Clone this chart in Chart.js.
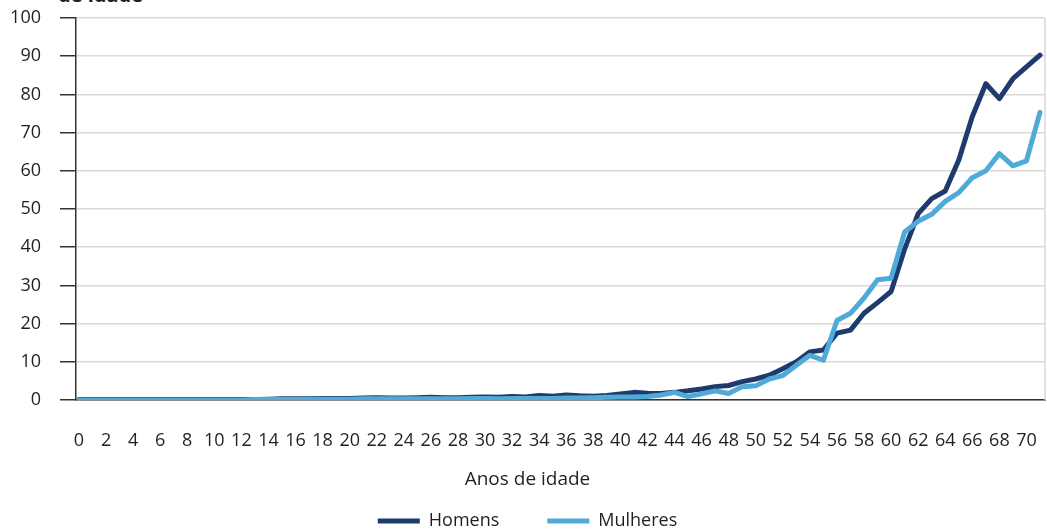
<!DOCTYPE html>
<html lang="pt">
<head>
<meta charset="utf-8">
<title>Homens e Mulheres por anos de idade</title>
<script src="https://cdn.jsdelivr.net/npm/chart.js@4.4.1/dist/chart.umd.min.js"></script>
<style>
  html, body { margin: 0; padding: 0; background: #fff; }
  #wrap { position: relative; width: 1047px; height: 532px; overflow: hidden; }
  #topTitle {
    position: absolute; left: 58px; top: -15px;
    font: bold 20px "Open Sans", sans-serif; line-height: 20px; color: #231f20;
  }
  #chart { position: absolute; left: 0; top: 0; }
</style>
</head>
<body>
<div id="wrap">
  <div id="topTitle">de idade</div>
  <canvas id="chart" width="1047" height="540"></canvas>
</div>
<script>
// anos de idade (categorias)
const ages = [0, 1, 2, 3, 4, 5, 6, 7, 8, 9, 10, 11, 12, 13, 14, 15, 16, 17, 18, 19,
  20, 21, 22, 23, 24, 25, 26, 27, 28, 29, 30, 31, 32, 33, 34, 35, 36, 37, 38, 39,
  40, 41, 42, 43, 44, 45, 46, 47, 48, 49, 50, 51, 52, 53, 54, 55, 56, 57, 58, 59,
  60, 61, 62, 63, 64, 65, 66, 67, 68, 69, 70, 71];

const homens = [0.1, 0.1, 0.1, 0.1, 0.1, 0.1, 0.1, 0.1, 0.1, 0.1,
  0.1, 0.1, 0.1, 0.1, 0.2, 0.3, 0.3, 0.3, 0.4, 0.4,
  0.4, 0.5, 0.6, 0.5, 0.5, 0.6, 0.7, 0.6, 0.6, 0.7,
  0.8, 0.7, 0.9, 0.8, 1.2, 1.0, 1.3, 1.1, 1.0, 1.2,
  1.6, 2.0, 1.8, 1.7, 2.0, 2.4, 2.9, 3.5, 3.8, 4.8,
  5.5, 6.5, 8.2, 10.0, 12.6, 13.1, 17.5, 18.3, 22.7, 25.5,
  28.4, 39.5, 48.8, 52.7, 54.7, 62.8, 74.2, 82.8, 78.9, 84.1, 87.2, 90.3];

const mulheres = [0.0, 0.0, 0.0, 0.0, 0.0, 0.0, 0.0, 0.0, 0.0, 0.0,
  0.0, 0.0, 0.0, 0.1, 0.1, 0.1, 0.1, 0.1, 0.2, 0.2,
  0.2, 0.3, 0.3, 0.3, 0.3, 0.3, 0.3, 0.3, 0.3, 0.4,
  0.4, 0.3, 0.4, 0.4, 0.4, 0.4, 0.5, 0.5, 0.6, 0.7,
  0.8, 0.8, 0.9, 1.3, 2.0, 0.9, 1.6, 2.4, 1.7, 3.5,
  3.7, 5.5, 6.4, 9.1, 11.7, 10.4, 20.8, 22.7, 26.7, 31.5,
  31.9, 44.0, 46.8, 48.6, 52.0, 54.3, 58.2, 60.0, 64.5, 61.3, 62.6, 75.3];

const xTicks = [0, 2, 4, 6, 8, 10, 12, 14, 16, 18, 20, 22, 24, 26, 28, 30, 32, 34,
  36, 38, 40, 42, 44, 46, 48, 50, 52, 54, 56, 58, 60, 62, 64, 66, 68, 70];
const yTicks = [0, 10, 20, 30, 40, 50, 60, 70, 80, 90, 100];

const textColor = '#231f20';
const axisColor = '#333333';
const gridColor = '#d9d9d9';
const family = '"Open Sans", sans-serif';
const tickFont = { family, size: 18 };

// linha cinza do lado direito da área do gráfico
const rightFrame = {
  id: 'rightFrame',
  beforeDatasetsDraw(chart) {
    const { ctx, chartArea } = chart;
    ctx.save();
    ctx.strokeStyle = gridColor;
    ctx.lineWidth = 1.5;
    ctx.beginPath();
    ctx.moveTo(chartArea.right, chartArea.top);
    ctx.lineTo(chartArea.right, chartArea.bottom);
    ctx.stroke();
    ctx.restore();
  }
};

const toPoints = vals => ages.map((a, i) => ({ x: a, y: vals[i] }));

new Chart(document.getElementById('chart'), {
  type: 'line',
  data: {
    datasets: [{
      label: 'Homens',
      data: toPoints(homens),
      borderColor: '#1f3a6c',
      backgroundColor: '#1f3a6c',
      borderWidth: 5,
      borderCapStyle: 'round',
      borderJoinStyle: 'round',
      pointRadius: 0,
      tension: 0,
      order: 1
    }, {
      label: 'Mulheres',
      data: toPoints(mulheres),
      borderColor: '#50aad7',
      backgroundColor: '#50aad7',
      borderWidth: 5,
      borderCapStyle: 'round',
      borderJoinStyle: 'round',
      pointRadius: 0,
      tension: 0,
      order: 0
    }]
  },
  options: {
    responsive: false,
    devicePixelRatio: 1,
    animation: false,
    layout: { padding: { top: 18, right: 2, left: 10, bottom: 0 } },
    scales: {
      x: {
        type: 'linear',
        min: -0.22,
        max: 71.37,
        afterBuildTicks: scale => { scale.ticks = xTicks.map(v => ({ value: v })); },
        afterFit: scale => {
          scale.height = 52;
          scale.paddingLeft = 0;
          scale.paddingRight = 0;
        },
        grid: { display: false, drawTicks: false },
        border: { display: true, color: axisColor, width: 1.5 },
        ticks: { color: textColor, font: tickFont, padding: 30, maxRotation: 0, autoSkip: false }
      },
      y: {
        min: 0,
        max: 100,
        afterBuildTicks: scale => { scale.ticks = yTicks.map(v => ({ value: v })); },
        afterFit: scale => {
          scale.width = 66;
          scale.paddingTop = 10;
          scale.paddingBottom = 10;
        },
        grid: { color: gridColor, lineWidth: 1.5, tickColor: axisColor, tickLength: 16, tickWidth: 1.5 },
        border: { display: true, color: axisColor, width: 1.5 },
        ticks: { color: textColor, font: tickFont, padding: 19 }
      }
    },
    plugins: {
      title: {
        display: true,
        text: 'Anos de idade',
        position: 'bottom',
        weight: 500,
        color: textColor,
        font: { family, size: 19, weight: 'normal' },
        padding: { top: 16.6, bottom: -27.4 }
      },
      legend: {
        position: 'bottom',
        labels: {
          color: textColor,
          font: { family, size: 18 },
          usePointStyle: true,
          pointStyle: 'line',
          pointStyleWidth: 42,
          padding: 48,
          sort: (a, b) => a.datasetIndex - b.datasetIndex
        }
      },
      tooltip: { enabled: false }
    }
  },
  plugins: [rightFrame]
});
</script>
</body>
</html>
